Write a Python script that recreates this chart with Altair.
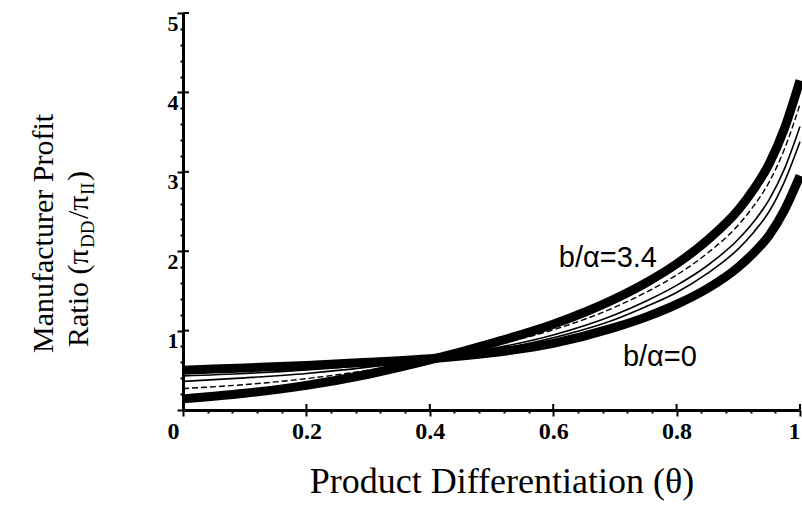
import altair as alt
import pandas as pd

# ---- data ----
theta = [0, 0.1, 0.2, 0.3, 0.4, 0.5, 0.6, 0.7, 0.75, 0.8, 0.85, 0.9, 0.925, 0.95, 0.975, 1.0]
ratio_b0 = [0.50, 0.53, 0.56, 0.60, 0.645, 0.72, 0.84, 1.04, 1.17, 1.33, 1.53, 1.80, 1.98, 2.20, 2.52, 2.95]
ratio_l2 = [0.43, 0.46, 0.505, 0.565, 0.64, 0.75, 0.91, 1.14, 1.30, 1.48, 1.72, 2.03, 2.24, 2.50, 2.88, 3.38]
ratio_l3 = [0.36, 0.405, 0.46, 0.54, 0.64, 0.77, 0.945, 1.20, 1.37, 1.57, 1.82, 2.15, 2.37, 2.65, 3.04, 3.57]
ratio_dash = [0.27, 0.32, 0.395, 0.50, 0.635, 0.805, 1.01, 1.295, 1.48, 1.70, 1.975, 2.33, 2.57, 2.87, 3.29, 3.85]
ratio_b34 = [0.14, 0.21, 0.31, 0.45, 0.63, 0.84, 1.08, 1.40, 1.60, 1.84, 2.14, 2.52, 2.78, 3.10, 3.55, 4.15]

x_major = [0, 0.2, 0.4, 0.6, 0.8, 1]
y_major = [1, 2, 3, 4, 5]
x_ticks = [round(i * 0.04, 2) for i in range(26)]
y_ticks = [round(i * 0.2, 1) for i in range(26)]

annot_text = ["b/α=3.4", "b/α=0"]
annot_x = [0.609, 0.713]
annot_y = [1.80, 0.55]

def series(name, vals):
    return pd.DataFrame({"theta": theta, "ratio": vals, "s": name})

thick_df = pd.concat([series("b0", ratio_b0), series("b34", ratio_b34)])
thin_df = pd.concat([series("l2", ratio_l2), series("l3", ratio_l3)])
dash_df = series("dash", ratio_dash)
annot_df = pd.DataFrame({"t": annot_text, "theta": annot_x, "ratio": annot_y})
xtick_df = pd.DataFrame({"theta": x_major})
ytick_df = pd.DataFrame({"ratio": y_major})

xscale = alt.Scale(domain=[0, 1], nice=False, zero=False)
yscale = alt.Scale(domain=[0, 5], nice=False, zero=False)

x_major_test = "abs(datum.value*5 - round(datum.value*5)) < 0.001"
y_major_test = "abs(datum.value - round(datum.value)) < 0.001"

xaxis = alt.Axis(
    values=x_ticks,
    labelExpr=f"({x_major_test}) ? (datum.value == 1 ? '1' : (datum.value == 0 ? '0' : format(datum.value, '.1f'))) : ''",
    tickSize={"condition": {"test": x_major_test, "value": 6}, "value": 3},
    labelOffset={"condition": {"test": "datum.value == 0", "value": -10}, "value": 0},
    labelAlign={"condition": {"test": "datum.value == 1", "value": "right"}, "value": "center"},
    title=None, grid=False,
    domainColor="black", domainWidth=3, tickColor="black", tickWidth=2,
    labelFont="Liberation Serif", labelFontWeight="bold", labelFontSize=24, labelColor="black",
    labelPadding=3, labelFlush=False, labelOverlap=False, labelBound=False,
)
yaxis = alt.Axis(
    values=y_ticks,
    labelExpr=f"({y_major_test}) && datum.value > 0 ? format(datum.value, 'd') : ''",
    tickSize={"condition": {"test": y_major_test, "value": 6}, "value": 3},
    title=None, grid=False,
    domainColor="black", domainWidth=3, tickColor="black", tickWidth=2,
    labelFont="Liberation Serif", labelFontWeight="bold", labelFontSize=22, labelColor="black",
    labelPadding=-1, labelBaseline="top", labelFlush=False, labelOverlap=False, labelBound=False,
)

X = alt.X("theta:Q", scale=xscale, axis=xaxis)
Y = alt.Y("ratio:Q", scale=yscale, axis=yaxis)

thick = alt.Chart(thick_df).mark_line(color="black", strokeWidth=9, interpolate="monotone").encode(
    x=X, y=Y, detail="s:N")
thin = alt.Chart(thin_df).mark_line(color="black", strokeWidth=1.6, interpolate="monotone").encode(
    x=X, y=Y, detail="s:N")
dash = alt.Chart(dash_df).mark_line(color="black", strokeWidth=1.4, strokeDash=[6, 3], interpolate="monotone").encode(
    x=X, y=Y)

annots = alt.Chart(annot_df).mark_text(
    font="Liberation Sans", fontSize=29, align="left", baseline="alphabetic", color="black"
).encode(x=X, y=Y, text="t:N")

# inner halves of the major ticks (the reference ticks cross the axis)
xin = alt.Chart(xtick_df).mark_rule(color="black", strokeWidth=2).encode(
    x=X, y=alt.value(397), y2=alt.value(391))
yin = alt.Chart(ytick_df).mark_rule(color="black", strokeWidth=2).encode(
    y=Y, x=alt.value(0), x2=alt.value(6))

# axis titles
xtitle_df = pd.DataFrame({"t": ["Product Differentiation (θ)"]})
xtitle = alt.Chart(xtitle_df).mark_text(
    font="Liberation Serif", fontSize=36, align="center", baseline="alphabetic", color="black"
).encode(x=alt.value(319), y=alt.value(480), text="t:N")

ytitle_pieces = ["Manufacturer Profit", "Ratio (π", "DD", "/π", "II", " )"]
ytitle_df = pd.DataFrame({
    "t": ytitle_pieces,
    "px": [-130, -95, -95, -95, -95, -95],
    "py": [340, 334, 334, 334, 334, 334],
    "dx": [0, 0, 99, 128, 152, 166],
    "dy": [0, 0, 6, 0, 6, 0],
    "fs": [30, 30, 19, 30, 19, 30],
})
ylayers = []
for i, row in ytitle_df.iterrows():
    ylayers.append(
        alt.Chart(ytitle_df.iloc[[i]]).mark_text(
            font="Liberation Serif", fontSize=float(row["fs"]), angle=270, align="left",
            baseline="alphabetic", color="black", dx=float(row["dx"]), dy=float(row["dy"])
        ).encode(x=alt.value(float(row["px"])), y=alt.value(float(row["py"])), text="t:N")
    )

chart = alt.layer(thick, thin, dash, annots, xin, yin, xtitle, *ylayers).properties(
    width=617, height=397,
    autosize=alt.AutoSizeParams(type="none"),
    padding={"left": 183, "top": 13, "right": 2, "bottom": 103},
    background="white",
).configure_view(stroke=None)

chart.save("out.html", embed_options={"renderer": "svg", "actions": False})
